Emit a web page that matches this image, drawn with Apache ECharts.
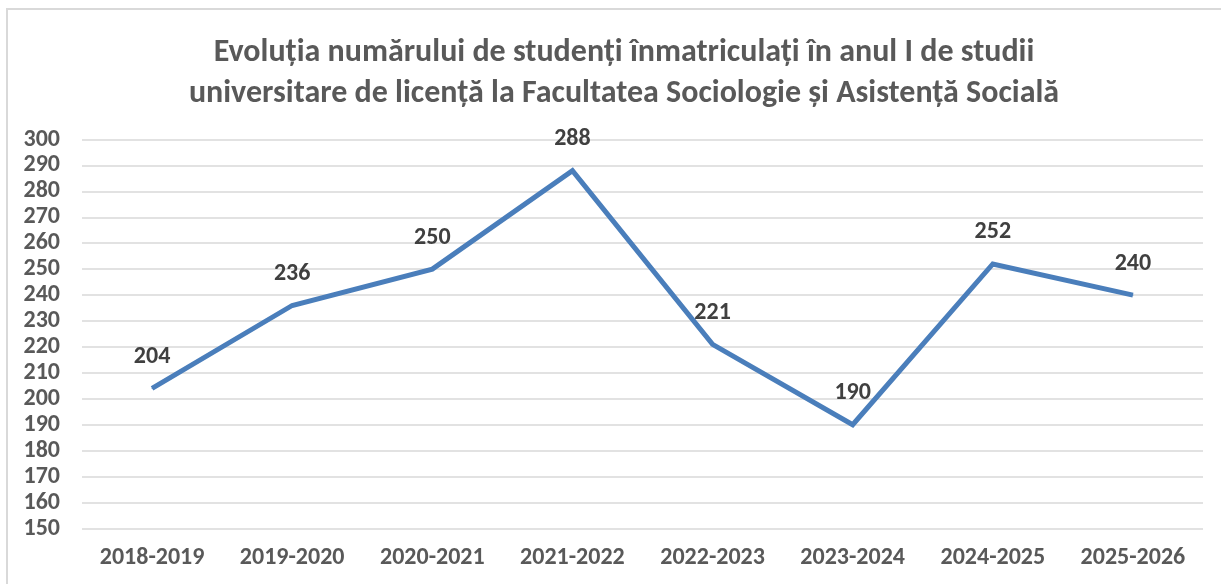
<!DOCTYPE html>
<html>
<head>
<meta charset="utf-8">
<script src="https://cdn.jsdelivr.net/npm/echarts@6/dist/echarts.min.js"></script>
<style>
  html, body { margin: 0; padding: 0; background: #fff; overflow: hidden; }
  .frame {
    position: absolute; left: 6px; top: 8px;
    width: 1400px; height: 800px;
    border: 2px solid #d9d9d9;
  }
  #chart { position: absolute; left: 0; top: 0; width: 1221px; height: 584px; }
</style>
</head>
<body>
<div class="frame"></div>
<div id="chart"></div>
<script>
const categories = ["2018-2019", "2019-2020", "2020-2021", "2021-2022", "2022-2023", "2023-2024", "2024-2025", "2025-2026"];
const students = [204, 236, 250, 288, 221, 190, 252, 240];
const titleLines = [
  "Evoluția numărului de studenți înmatriculați în anul I de studii",
  "universitare de licență la Facultatea Sociologie și Asistență Socială"
];

const font = "Calibri, Carlito, 'Open Sans', 'Noto Sans', sans-serif";
const chart = echarts.init(document.getElementById("chart"));

chart.setOption({
  animation: false,
  title: {
    text: titleLines.join("\n"),
    left: 619,
    textAlign: "center",
    top: 27,
    textStyle: {
      fontFamily: font,
      fontSize: 32,
      fontWeight: "bold",
      color: "#595959",
      lineHeight: 41
    }
  },
  grid: {
    left: 82,
    right: 18,
    top: 139.5,
    bottom: 55.5
  },
  xAxis: {
    type: "category",
    data: categories,
    boundaryGap: true,
    axisLine: { show: false },
    axisTick: { show: false },
    axisLabel: {
      margin: 17,
      fontFamily: font,
      fontSize: 24,
      fontWeight: "bold",
      color: "#595959"
    }
  },
  yAxis: {
    type: "value",
    min: 150,
    max: 300,
    interval: 10,
    axisLine: { show: false },
    axisTick: { show: false },
    splitLine: { lineStyle: { color: "#d9d9d9", width: 1.5 } },
    axisLabel: {
      margin: 22,
      fontFamily: font,
      fontSize: 24,
      fontWeight: "bold",
      color: "#595959"
    }
  },
  series: [
    {
      type: "line",
      data: students,
      symbol: "circle",
      symbolSize: 1,
      showSymbol: true,
      itemStyle: { color: "#4a7ebb" },
      lineStyle: { color: "#4a7ebb", width: 5, join: "miter" },
      label: {
        show: true,
        position: "top",
        distance: 19,
        fontFamily: font,
        fontSize: 24,
        fontWeight: "bold",
        color: "#404040"
      }
    }
  ]
});
</script>
</body>
</html>
